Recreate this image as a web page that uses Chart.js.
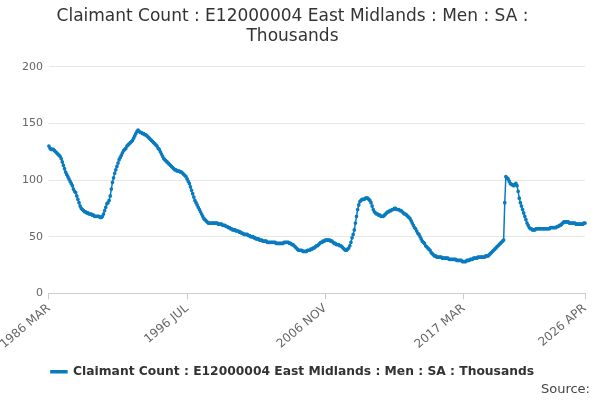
<!DOCTYPE html>
<html>
<head>
<meta charset="utf-8">
<script src="https://cdn.jsdelivr.net/npm/chart.js@4"></script>
<style>
  html, body { margin: 0; padding: 0; background: #fff; }
  #wrap { position: relative; width: 600px; height: 400px; }
  #source { position: absolute; right: 10px; bottom: 4px; font: 13px "DejaVu Sans", sans-serif; color: #444; }
</style>
</head>
<body>
<div id="wrap">
  <canvas id="chart" width="600" height="400"></canvas>
  <div id="source">Source:</div>
</div>
<script>
const monthNames = ["JAN","FEB","MAR","APR","MAY","JUN","JUL","AUG","SEP","OCT","NOV","DEC"];
const tickLabels = ["1986 MAR", "1996 JUL", "2006 NOV", "2017 MAR", "2026 APR"];

// Thousands, monthly, 1986 MAR .. 2026 APR
const v1986 = [130,128,127,127,127,126,125,124,123,122];
const v1987 = [121,119,116,113,110,107,105,103,101,99,97,95];
const v1988 = [92,90,89,86,83,80,77,75,74,73,72,72];
const v1989 = [71,71,70,70,70,69,69,68,68,68,68,68];
const v1990 = [67,67,68,70,73,76,79,80,82,86,92,98];
const v1991 = [102,106,109,112,115,118,120,122,124,126,127,128];
const v1992 = [130,131,132,133,134,135,137,139,141,143,144,143];
const v1993 = [142,142,141,141,140,140,139,138,137,136,135,134];
const v1994 = [133,132,131,130,128,127,125,123,121,119,118,117];
const v1995 = [116,115,114,113,112,111,110,109,109,108,108,108];
const v1996 = [107,107,106,105,104,103,101,99,97,94,91,88];
const v1997 = [85,82,80,78,76,74,72,70,68,66,65,64];
const v1998 = [63,62,62,62,62,62,62,62,62,62,61,61];
const v1999 = [61,61,60,60,60,59,59,58,58,57,57,56];
const v2000 = [56,56,55,55,55,54,54,53,53,52,52,52];
const v2001 = [52,51,51,50,50,50,49,49,48,48,48,47];
const v2002 = [47,47,46,46,46,46,45,45,45,45,45,45];
const v2003 = [45,45,44,44,44,44,44,44,44,45,45,45];
const v2004 = [45,45,44,44,43,43,42,41,40,39,38,38];
const v2005 = [38,38,37,37,37,37,38,38,38,39,39,40];
const v2006 = [40,41,42,42,43,44,45,45,46,46,47,47];
const v2007 = [47,47,47,46,46,45,44,44,43,43,43,42];
const v2008 = [42,41,40,39,38,38,39,40,42,45,49,52];
const v2009 = [56,62,68,74,78,81,82,83,83,83,84,84];
const v2010 = [84,83,82,80,77,74,72,71,70,70,69,69];
const v2011 = [68,68,68,69,70,71,72,72,73,73,74,74];
const v2012 = [75,75,74,74,74,73,73,72,71,70,70,69];
const v2013 = [68,67,66,64,62,60,58,57,55,53,52,50];
const v2014 = [48,46,45,44,42,41,40,39,38,36,35,34];
const v2015 = [33,33,32,32,32,32,32,31,31,31,31,31];
const v2016 = [31,30,30,30,30,30,30,30,29,29,29,29];
const v2017 = [29,28,28,28,28,29,29,29,30,30,30,31];
const v2018 = [31,31,31,32,32,32,32,32,32,32,33,33];
const v2019 = [33,34,35,36,37,38,39,40,41,42,43,44];
const v2020 = [45,46,47,80,103,102,101,99,97,96,96,95];
const v2021 = [96,97,95,90,84,80,77,74,71,68,65,62];
const v2022 = [60,58,57,57,56,56,56,57,57,57,57,57];
const v2023 = [57,57,57,57,57,57,57,57,58,58,58,58];
const v2024 = [58,58,59,59,60,60,61,62,63,63,63,63];
const v2025 = [63,62,62,62,62,62,62,61,61,61,61,61];
const v2026 = [61,61,62,62];

const values = [].concat(v1986,v1987,v1988,v1989,v1990,v1991,v1992,v1993,v1994,v1995,
  v1996,v1997,v1998,v1999,v2000,v2001,v2002,v2003,v2004,v2005,v2006,v2007,v2008,v2009,
  v2010,v2011,v2012,v2013,v2014,v2015,v2016,v2017,v2018,v2019,v2020,v2021,v2022,v2023,
  v2024,v2025,v2026);

const labels = values.map((_, i) => {
  const m = i + 2;
  return (1986 + Math.floor(m / 12)) + " " + monthNames[m % 12];
});

const blue = "#0a7bbf";
Chart.defaults.font.family = '"DejaVu Sans", sans-serif';

new Chart(document.getElementById("chart").getContext("2d"), {
  type: "line",
  data: {
    labels: labels,
    datasets: [{
      label: "Claimant Count : E12000004 East Midlands : Men : SA : Thousands",
      data: values,
      borderColor: blue,
      backgroundColor: blue,
      borderWidth: 1.5,
      pointRadius: 1.1,
      pointHoverRadius: 3,
      tension: 0
    }]
  },
  options: {
    responsive: false,
    animation: false,
    layout: { padding: { left: 0, right: 15, bottom: 12 } },
    plugins: {
      title: {
        display: true,
        text: ["Claimant Count : E12000004 East Midlands : Men : SA :", "Thousands"],
        color: "#333",
        font: { size: 17, weight: "normal" },
        padding: { top: 6, bottom: 20 }
      },
      legend: {
        position: "bottom",
        labels: {
          color: "#333",
          font: { size: 12.3, weight: "bold" },
          boxWidth: 16,
          boxHeight: 2,
          padding: 12
        }
      }
    },
    scales: {
      x: {
        grid: { drawOnChartArea: false, color: "#ccc", tickLength: 6 },
        border: { color: "#ccc" },
        ticks: {
          autoSkip: false,
          maxRotation: 40,
          minRotation: 40,
          color: "#666",
          font: { size: 12 },
          padding: 2,
          callback: function (val) {
            const l = this.getLabelForValue(val);
            return tickLabels.includes(l) ? l : null;
          }
        }
      },
      y: {
        min: 0,
        max: 200,
        ticks: { stepSize: 50, color: "#666", font: { size: 11 }, padding: 6 },
        grid: { color: "#e6e6e6", drawTicks: false },
        border: { display: false }
      }
    }
  }
});
</script>
</body>
</html>
